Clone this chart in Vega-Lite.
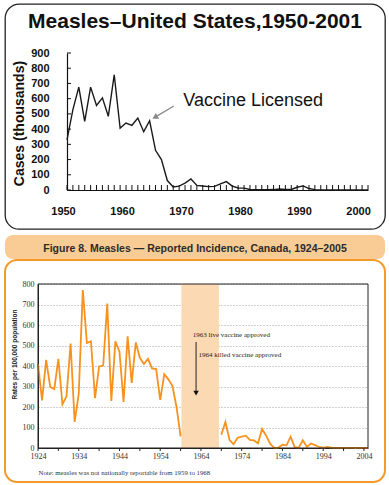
{
  "$schema": "https://vega.github.io/schema/vega-lite/v6.json",
  "background": "white",
  "padding": {"left": 4, "top": 3, "right": 0, "bottom": 0},
  "config": {"font": "Liberation Sans", "axis": {"labelOverlap": false, "tickCount": 200}},
  "datasets": {
    "us": [
      {"year": 1950, "cases": 330}, {"year": 1951, "cases": 528}, {"year": 1952, "cases": 676}, {"year": 1953, "cases": 451},
      {"year": 1954, "cases": 676}, {"year": 1955, "cases": 555}, {"year": 1956, "cases": 605}, {"year": 1957, "cases": 484},
      {"year": 1958, "cases": 757}, {"year": 1959, "cases": 407}, {"year": 1960, "cases": 440}, {"year": 1961, "cases": 425},
      {"year": 1962, "cases": 473}, {"year": 1963, "cases": 383}, {"year": 1964, "cases": 455}, {"year": 1965, "cases": 261},
      {"year": 1966, "cases": 200}, {"year": 1967, "cases": 62}, {"year": 1968, "cases": 20}, {"year": 1969, "cases": 25},
      {"year": 1970, "cases": 45}, {"year": 1971, "cases": 72}, {"year": 1972, "cases": 30}, {"year": 1973, "cases": 26},
      {"year": 1974, "cases": 22}, {"year": 1975, "cases": 24}, {"year": 1976, "cases": 40}, {"year": 1977, "cases": 55},
      {"year": 1978, "cases": 26}, {"year": 1979, "cases": 13}, {"year": 1980, "cases": 12}, {"year": 1981, "cases": 3},
      {"year": 1982, "cases": 2}, {"year": 1983, "cases": 1.5}, {"year": 1984, "cases": 2.6}, {"year": 1985, "cases": 2.8},
      {"year": 1986, "cases": 6.3}, {"year": 1987, "cases": 3.7}, {"year": 1988, "cases": 3.4}, {"year": 1989, "cases": 18},
      {"year": 1990, "cases": 27}, {"year": 1991, "cases": 9.6}, {"year": 1992, "cases": 2.2}, {"year": 1993, "cases": 0.3},
      {"year": 1994, "cases": 1}, {"year": 1995, "cases": 0.3}, {"year": 1996, "cases": 0.5}, {"year": 1997, "cases": 0.1},
      {"year": 1998, "cases": 0.1}, {"year": 1999, "cases": 0.1}, {"year": 2000, "cases": 0.1}, {"year": 2001, "cases": 0.1}
    ],
    "usYTicks": [
      {"cases": 0}, {"cases": 100}, {"cases": 200}, {"cases": 300}, {"cases": 400},
      {"cases": 500}, {"cases": 600}, {"cases": 700}, {"cases": 800}, {"cases": 900}
    ],
    "usArrow": [
      {"year": 1968.1, "cases": 552}, {"year": 1965.3, "cases": 487}
    ],
    "usArrowHead": [{"year": 1964.9, "cases": 478}],
    "usNote": [{"year": 1969.7, "cases": 585, "label": "Vaccine Licensed"}],
    "canada": [
      {"year": 1924, "rate": 410, "seg": "a"}, {"year": 1925, "rate": 232, "seg": "a"}, {"year": 1926, "rate": 430, "seg": "a"},
      {"year": 1927, "rate": 298, "seg": "a"}, {"year": 1928, "rate": 287, "seg": "a"}, {"year": 1929, "rate": 435, "seg": "a"},
      {"year": 1930, "rate": 213, "seg": "a"}, {"year": 1931, "rate": 252, "seg": "a"}, {"year": 1932, "rate": 510, "seg": "a"},
      {"year": 1933, "rate": 127, "seg": "a"}, {"year": 1934, "rate": 265, "seg": "a"}, {"year": 1935, "rate": 770, "seg": "a"},
      {"year": 1936, "rate": 512, "seg": "a"}, {"year": 1937, "rate": 520, "seg": "a"}, {"year": 1938, "rate": 243, "seg": "a"},
      {"year": 1939, "rate": 398, "seg": "a"}, {"year": 1940, "rate": 402, "seg": "a"}, {"year": 1941, "rate": 705, "seg": "a"},
      {"year": 1942, "rate": 230, "seg": "a"}, {"year": 1943, "rate": 520, "seg": "a"}, {"year": 1944, "rate": 470, "seg": "a"},
      {"year": 1945, "rate": 225, "seg": "a"}, {"year": 1946, "rate": 545, "seg": "a"}, {"year": 1947, "rate": 318, "seg": "a"},
      {"year": 1948, "rate": 515, "seg": "a"}, {"year": 1949, "rate": 440, "seg": "a"}, {"year": 1950, "rate": 410, "seg": "a"},
      {"year": 1951, "rate": 435, "seg": "a"}, {"year": 1952, "rate": 388, "seg": "a"}, {"year": 1953, "rate": 385, "seg": "a"},
      {"year": 1954, "rate": 235, "seg": "a"}, {"year": 1955, "rate": 360, "seg": "a"}, {"year": 1956, "rate": 335, "seg": "a"},
      {"year": 1957, "rate": 302, "seg": "a"}, {"year": 1958, "rate": 200, "seg": "a"}, {"year": 1959, "rate": 57, "seg": "a"},
      {"year": 1969, "rate": 65, "seg": "b"}, {"year": 1970, "rate": 127, "seg": "b"}, {"year": 1971, "rate": 40, "seg": "b"},
      {"year": 1972, "rate": 18, "seg": "b"}, {"year": 1973, "rate": 50, "seg": "b"}, {"year": 1974, "rate": 56, "seg": "b"},
      {"year": 1975, "rate": 60, "seg": "b"}, {"year": 1976, "rate": 40, "seg": "b"}, {"year": 1977, "rate": 37, "seg": "b"},
      {"year": 1978, "rate": 23, "seg": "b"}, {"year": 1979, "rate": 93, "seg": "b"}, {"year": 1980, "rate": 60, "seg": "b"},
      {"year": 1981, "rate": 20, "seg": "b"}, {"year": 1982, "rate": 1, "seg": "b"}, {"year": 1983, "rate": 2, "seg": "b"},
      {"year": 1984, "rate": 16, "seg": "b"}, {"year": 1985, "rate": 13, "seg": "b"}, {"year": 1986, "rate": 55, "seg": "b"},
      {"year": 1987, "rate": 4, "seg": "b"}, {"year": 1988, "rate": 2, "seg": "b"}, {"year": 1989, "rate": 38, "seg": "b"},
      {"year": 1990, "rate": 5, "seg": "b"}, {"year": 1991, "rate": 22, "seg": "b"}, {"year": 1992, "rate": 14, "seg": "b"},
      {"year": 1993, "rate": 5, "seg": "b"}, {"year": 1994, "rate": 1, "seg": "b"}, {"year": 1995, "rate": 5, "seg": "b"},
      {"year": 1996, "rate": 2, "seg": "b"}, {"year": 1997, "rate": 1, "seg": "b"}, {"year": 1998, "rate": 0.5, "seg": "b"},
      {"year": 1999, "rate": 0.5, "seg": "b"}, {"year": 2000, "rate": 0.5, "seg": "b"}, {"year": 2001, "rate": 0.3, "seg": "b"},
      {"year": 2002, "rate": 0.1, "seg": "b"}, {"year": 2003, "rate": 0.2, "seg": "b"}, {"year": 2004, "rate": 0.1, "seg": "b"},
      {"year": 2005, "rate": 0.2, "seg": "b"}
    ],
    "canXTicks": [
      {"year": 1924}, {"year": 1929}, {"year": 1934}, {"year": 1939}, {"year": 1944}, {"year": 1949}, {"year": 1954},
      {"year": 1959}, {"year": 1964}, {"year": 1969}, {"year": 1974}, {"year": 1979}, {"year": 1984}, {"year": 1989},
      {"year": 1994}, {"year": 1999}, {"year": 2004}
    ],
    "canBand": [{"start": 1959.2, "end": 1968.4}],
    "canArrow": [{"year": 1962.8, "from": 517, "to": 275}],
    "canArrowHead": [{"year": 1962.8, "rate": 268}],
    "canNotes": [
      {"year": 1962.0, "rate": 551, "label": "1963 live vaccine approved"},
      {"year": 1963.4, "rate": 454, "label": "1964 killed vaccine approved"}
    ]
  },
  "spacing": 5,
  "vconcat": [
    {
      "width": 380,
      "height": 225,
      "view": {"fill": "white", "stroke": "#222222", "strokeWidth": 1.3, "cornerRadius": 14},
      "title": {"text": "Measles–United States,1950-2001", "fontSize": 21, "fontWeight": "bold", "font": "Liberation Sans", "color": "#111111", "offset": -28, "anchor": "middle", "frame": "group"},
      "layer": [
        {
          "data": {"name": "us"},
          "mark": {"type": "line", "color": "#1a1a1a", "strokeWidth": 1.4},
          "encoding": {
            "x": {
              "field": "year", "type": "quantitative",
              "scale": {"domain": [1950, 2001], "range": [62, 363], "nice": false, "zero": false},
              "axis": {
                "values": [1950,1960,1970,1980,1990,2000],
                "tickCount": 200,
                "labelExpr": "'' + datum.value",
                "title": null, "offset": -39, "domain": true, "domainColor": "#111111", "domainWidth": 1.2, "ticks": false,
                "labelPadding": 15, "labelFontSize": 11, "labelFontWeight": "bold", "labelFont": "Liberation Sans", "labelColor": "#111111",
                "labelOffset": -4, "labelFlush": false, "labelOverlap": false, "grid": false
              }
            },
            "y": {
              "field": "cases", "type": "quantitative",
              "scale": {"domain": [0, 900], "range": [186, 49], "nice": false, "zero": true},
              "axis": {
                "values": [0,100,200,300,400,500,600,700,800,900],
                "tickCount": 200,
                "title": "Cases (thousands)", "titleFontSize": 14, "titleFontWeight": "bold", "titleFont": "Liberation Sans", "titleColor": "#111111",
                "titleX": -48, "titleY": 119, "titleBaseline": "middle", "titleAlign": "center", "titleAngle": -90,
                "offset": -62, "domain": true, "domainColor": "#111111", "domainWidth": 1.2, "ticks": false,
                "labelPadding": 18, "labelFontSize": 11, "labelFontWeight": "bold", "labelFont": "Liberation Sans", "labelColor": "#111111",
                "labelFlush": false, "labelOverlap": false, "grid": false
              }
            }
          }
        },
        {
          "data": {"name": "us"},
          "mark": {"type": "tick", "orient": "vertical", "color": "#111111", "size": 5, "thickness": 1, "yOffset": -2.5, "opacity": 1},
          "encoding": {
            "x": {"field": "year", "type": "quantitative"},
            "y": {"datum": 0, "type": "quantitative"}
          }
        },
        {
          "data": {"name": "usYTicks"},
          "mark": {"type": "tick", "orient": "horizontal", "color": "#111111", "size": 4, "thickness": 1, "xOffset": 2, "opacity": 1},
          "encoding": {
            "x": {"datum": 1950, "type": "quantitative"},
            "y": {"field": "cases", "type": "quantitative"}
          }
        },
        {
          "data": {"name": "usArrow"},
          "mark": {"type": "line", "color": "#8a8a8a", "strokeWidth": 1.3},
          "encoding": {"x": {"field": "year", "type": "quantitative"}, "y": {"field": "cases", "type": "quantitative"}}
        },
        {
          "data": {"name": "usArrowHead"},
          "mark": {"type": "point", "shape": "triangle-up", "filled": true, "color": "#8a8a8a", "size": 45, "angle": 240, "opacity": 1},
          "encoding": {"x": {"field": "year", "type": "quantitative"}, "y": {"field": "cases", "type": "quantitative"}}
        },
        {
          "data": {"name": "usNote"},
          "mark": {"type": "text", "align": "left", "baseline": "middle", "fontSize": 18, "font": "Liberation Sans", "color": "#111111"},
          "encoding": {"x": {"field": "year", "type": "quantitative"}, "y": {"field": "cases", "type": "quantitative"}, "text": {"field": "label"}}
        }
      ]
    },
    {
      "spacing": 0,
      "vconcat": [
        {
          "width": 380,
          "height": 24,
          "view": {"fill": "#f9cb95", "stroke": null, "cornerRadius": 8},
          "data": {"values": [{"label": "Figure 8. Measles — Reported Incidence, Canada, 1924–2005"}]},
          "mark": {"type": "text", "font": "Liberation Sans", "fontSize": 10.5, "fontWeight": "bold", "color": "#2b2b2b", "dy": 2},
          "encoding": {"text": {"field": "label"}}
        },
        {
          "width": 380,
          "height": 222,
          "view": {"fill": "white", "stroke": "#f59a2a", "strokeWidth": 2, "cornerRadius": 12},
          "layer": [
            {
              "data": {"name": "canBand"},
              "mark": {"type": "rect", "color": "#fbd9b3"},
              "encoding": {
                "x": {"field": "start", "type": "quantitative"},
                "x2": {"field": "end"},
                "y": {"datum": 0, "type": "quantitative"},
                "y2": {"datum": 800}
              }
            },
            {
              "data": {"name": "canada"},
              "mark": {"type": "line", "color": "#f7921e", "strokeWidth": 1.8},
              "encoding": {
                "detail": {"field": "seg"},
                "x": {
                  "field": "year", "type": "quantitative",
                  "scale": {"domain": [1924, 2005], "range": [33, 363], "nice": false, "zero": false},
                  "axis": {
                    "values": [1924,1934,1944,1954,1964,1974,1984,1994,2004],
                    "tickCount": 200,
                    "labelExpr": "'' + datum.value",
                    "title": "Note: measles was not nationally reportable from 1959 to 1968",
                    "titleAnchor": "start", "titleAlign": "left", "titleFont": "Liberation Serif",
                    "titleFontSize": 6.8, "titleFontWeight": "normal", "titleColor": "#333333", "titleY": 26, "titleBaseline": "alphabetic",
                    "offset": -34, "ticks": false, "domainColor": "#222222",
                    "labelPadding": 4, "labelFont": "Liberation Serif", "labelFontSize": 8, "labelColor": "#333333",
                    "labelFlush": false, "labelOverlap": false, "grid": false
                  }
                },
                "y": {
                  "field": "rate", "type": "quantitative",
                  "scale": {"domain": [0, 800], "range": [188, 24], "nice": false},
                  "axis": {
                    "values": [0,100,200,300,400,500,600,700,800],
                    "tickCount": 200,
                    "title": "Rates per 100,000 population", "titleFontSize": 6.5, "titleFontWeight": "bold",
                    "titleFont": "Liberation Sans", "titleColor": "#222222",
                    "titleX": -24, "titleY": 94, "titleBaseline": "middle", "titleAlign": "center", "titleAngle": -90,
                    "offset": -33, "ticks": false, "domainColor": "#222222",
                    "labelPadding": 4, "labelFont": "Liberation Serif", "labelFontSize": 8, "labelColor": "#333333",
                    "labelFlush": false, "labelOverlap": false,
                    "grid": true, "gridDash": [1, 2], "gridColor": "#8a8a8a", "gridWidth": 0.8
                  }
                }
              }
            },
            {
              "data": {"name": "canXTicks"},
              "mark": {"type": "tick", "orient": "vertical", "color": "#222222", "size": 3, "thickness": 1, "yOffset": 1.5, "opacity": 1},
              "encoding": {
                "x": {"field": "year", "type": "quantitative"},
                "y": {"datum": 0, "type": "quantitative"}
              }
            },
            {
              "data": {"values": [{}]},
              "mark": {"type": "rect", "fillOpacity": 0, "stroke": "#222222", "strokeWidth": 1},
              "encoding": {
                "x": {"datum": 1924, "type": "quantitative"},
                "x2": {"datum": 2005},
                "y": {"datum": 0, "type": "quantitative"},
                "y2": {"datum": 800}
              }
            },
            {
              "data": {"name": "canArrow"},
              "mark": {"type": "rule", "color": "#222222", "strokeWidth": 1},
              "encoding": {
                "x": {"field": "year", "type": "quantitative"},
                "y": {"field": "from", "type": "quantitative"},
                "y2": {"field": "to"}
              }
            },
            {
              "data": {"name": "canArrowHead"},
              "mark": {"type": "point", "shape": "triangle-down", "filled": true, "color": "#111111", "size": 30, "opacity": 1},
              "encoding": {"x": {"field": "year", "type": "quantitative"}, "y": {"field": "rate", "type": "quantitative"}}
            },
            {
              "data": {"name": "canNotes"},
              "mark": {"type": "text", "align": "left", "baseline": "middle", "fontSize": 7, "font": "Liberation Serif", "color": "#222222"},
              "encoding": {"x": {"field": "year", "type": "quantitative"}, "y": {"field": "rate", "type": "quantitative"}, "text": {"field": "label"}}
            }
          ]
        }
      ]
    }
  ]
}
